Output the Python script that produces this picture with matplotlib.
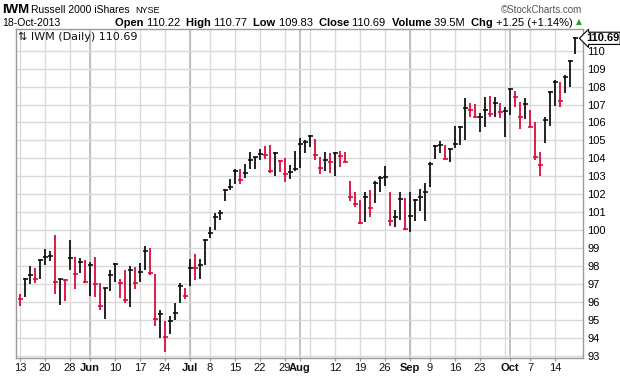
import numpy as np
import pandas as pd
import matplotlib
matplotlib.use("Agg")
import matplotlib.pyplot as plt
import matplotlib.transforms as mtransforms

# trading days, May 13 - Oct 18 2013
holidays = ["2013-05-27", "2013-07-04", "2013-09-02"]
dates = pd.bdate_range("2013-05-13", "2013-10-18")
dates = dates[~dates.isin(pd.to_datetime(holidays))]

highs = [96.45, 97.34, 98.0, 97.9, 98.4, 98.92, 98.86, 99.72, 97.28, 97.28,
         99.42, 98.5, 98.45, 98.36, 98.2, 98.5, 97.06, 96.78, 97.8, 98.17,
         97.28, 97.8, 97.99, 97.95, 98.17, 99.14, 99.01, 97.58, 95.52, 94.92,
         95.2, 95.94, 97.06, 96.78, 98.4, 98.64, 98.4, 99.48, 100.18, 100.96,
         101.1, 102.29, 102.83, 103.38, 103.4, 103.68, 104.37, 104.09, 104.52, 104.68,
         104.74, 104.37, 103.9, 104.03, 103.62, 104.42, 105.11, 105.02, 105.31, 105.08,
         104.1, 104.38, 104.29, 104.34, 104.42, 104.38, 102.71, 102.15, 101.65, 102.1,
         102.24, 102.71, 102.99, 103.58, 102.15, 101.13, 102.1, 101.78, 102.15, 101.72,
         102.28, 102.62, 103.77, 104.75, 104.94, 104.75, 104.56, 105.81, 105.81, 107.35,
         107.11, 107.03, 106.55, 107.4, 107.48, 107.44, 107.11, 106.85, 107.9, 107.76,
         107.16, 107.35, 106.7, 106.05, 104.34, 106.29, 107.76, 108.37, 108.27, 108.65,
         109.48, 110.77]
lows = [95.76, 96.26, 97.0, 97.06, 97.25, 98.03, 98.27, 96.41, 95.8, 96.04,
        97.75, 96.69, 97.62, 97.06, 96.35, 96.26, 95.52, 95.05, 96.6, 97.1,
        96.19, 95.94, 95.7, 96.72, 97.12, 97.77, 97.47, 94.68, 93.99, 93.19,
        94.18, 94.98, 95.94, 96.17, 96.91, 97.2, 97.3, 98.03, 99.57, 100.03,
        100.55, 101.64, 102.23, 102.55, 102.55, 102.92, 103.38, 103.4, 103.9, 103.94,
        103.16, 103.03, 103.25, 102.7, 102.83, 103.31, 103.44, 104.28, 104.62, 103.88,
        103.14, 103.32, 103.21, 103.04, 103.51, 103.77, 101.6, 101.28, 100.35, 100.43,
        100.72, 101.5, 102.15, 102.47, 100.24, 100.2, 100.54, 99.98, 99.87, 100.48,
        101.04, 100.48, 102.43, 103.95, 104.29, 103.97, 103.82, 104.56, 104.75, 105.03,
        106.29, 106.29, 105.49, 105.77, 106.29, 106.33, 106.23, 105.21, 106.42, 106.85,
        105.62, 106.18, 105.73, 103.88, 102.99, 104.88, 105.81, 106.92, 106.88, 107.63,
        107.96, 109.83]
closes = [96.15, 97.3, 97.5, 97.28, 98.36, 98.5, 98.58, 97.12, 97.25, 97.2,
          98.45, 97.58, 98.23, 97.12, 98.08, 97.0, 95.78, 96.75, 97.52, 98.12,
          97.06, 96.13, 97.77, 97.06, 97.69, 98.86, 97.62, 95.07, 95.33, 94.05,
          94.96, 95.39, 96.91, 96.35, 97.9, 97.86, 98.08, 99.44, 99.85, 100.72,
          100.97, 102.23, 102.42, 103.29, 102.79, 103.16, 103.9, 104.05, 104.24, 104.18,
          103.31, 104.28, 103.85, 103.12, 103.22, 103.4, 104.82, 104.93, 105.25, 104.19,
          103.47, 103.91, 103.78, 104.3, 104.15, 103.78, 101.87, 101.47, 100.39, 101.84,
          101.22, 102.65, 102.93, 102.95, 100.48, 100.72, 101.73, 100.07, 100.8, 101.69,
          101.87, 102.11, 103.69, 104.66, 104.75, 103.97, 104.53, 104.8, 105.77, 106.79,
          106.7, 106.29, 106.33, 106.7, 106.46, 107.07, 106.59, 106.64, 107.85, 107.4,
          106.29, 107.03, 105.77, 104.06, 103.64, 106.14, 107.72, 108.27, 107.2, 108.55,
          109.44, 110.69]
prev_close = 96.3  # close of May 10

yticks = list(range(93, 111))

up_col = "#111111"
dn_col = "#dc0a3c"

fig = plt.figure(figsize=(6.2, 3.76), dpi=100)
ax = fig.add_axes([16 / 620, 18 / 376, 567 / 620, 329 / 376])

x = np.arange(len(closes))
prev = np.r_[prev_close, closes[:-1]]
cols = [up_col if c >= p else dn_col for c, p in zip(closes, prev)]

# grid: weekly lines light, month starts darker
wk = pd.Series(dates).dt.isocalendar().week.values
mo = dates.month
week_start = [i for i in range(len(dates)) if i == 0 or wk[i] != wk[i - 1]]
month_start = [i for i in range(1, len(dates)) if mo[i] != mo[i - 1]]
for i in week_start:
    ax.axvline(i, color="#d9d9d9", lw=1.0, zorder=0)
for i in month_start:
    ax.axvline(i, color="#b8b8b8", lw=1.2, zorder=0)
for v in yticks:
    ax.axhline(v, color="#d9d9d9", lw=1.0, zorder=0)

ax.vlines(x, lows, highs, colors=cols, lw=1.3, zorder=3)
ax.hlines(closes, x - 0.5, x + 0.5, colors=cols, lw=1.2, zorder=3)

ax.set_xlim(-0.8, 112.6)
ax.set_ylim(92.87, 111.21)

# x labels: weekly day numbers, month names bold
pos, labs, bold = [], [], []
for i in week_start:
    if any(abs(m - i) <= 2 for m in month_start):
        continue
    pos.append(i); labs.append(str(dates[i].day)); bold.append(False)
for m in month_start:
    pos.append(m); labs.append(dates[m].strftime("%b")); bold.append(True)
ax.set_xticks(pos)
ax.set_xticklabels(labs, fontsize=8, family="Liberation Sans")
for t, b in zip(ax.get_xticklabels(), bold):
    if b:
        t.set_fontweight("bold")
ax.tick_params(axis="x", length=2, color="#999999", pad=1.5, labelcolor="#111111")

ax.yaxis.tick_right()
ax.set_yticks(yticks)
ax.set_yticklabels([str(v) for v in yticks], fontsize=8, family="Liberation Sans")
ax.tick_params(axis="y", length=0, pad=3)

for s in ax.spines.values():
    s.set_color("#9a9a9a")
    s.set_linewidth(1.0)

# last price tag
tr = mtransforms.blended_transform_factory(ax.transAxes, ax.transData)
ax.text(1.005, closes[-1], "%.2f" % closes[-1], transform=tr, ha="left", va="center",
        fontsize=8, fontweight="bold", family="Liberation Sans", clip_on=False,
        bbox=dict(boxstyle="larrow,pad=0.1", fc="white", ec="black", lw=0.8))

ax.text(0.004, 0.992, "\u21c5 IWM (Daily) %.2f" % closes[-1], transform=ax.transAxes,
        ha="left", va="top", fontsize=8, family="DejaVu Sans", color="#111111")

# header
def px(xp, yp):
    return xp / 620, 1 - yp / 376

fig.text(*px(2, 10), "IWM", fontsize=9.5, fontweight="bold", family="Liberation Sans", va="center")
fig.text(*px(31, 10), "Russell 2000 iShares", fontsize=7.5, family="Liberation Sans", va="center")
fig.text(*px(135, 10.5), "NYSE", fontsize=6.5, family="Liberation Sans", va="center")
fig.text(*px(582, 10), "\u00a9StockCharts.com", fontsize=7, family="Liberation Sans",
         color="#555555", va="center", ha="right")
fig.text(*px(2, 23), "18-Oct-2013", fontsize=7.5, family="Liberation Sans", va="center")

parts = [("Open ", True), ("110.22  ", False), ("High ", True), ("110.77  ", False),
         ("Low ", True), ("109.83  ", False), ("Close ", True), ("110.69  ", False),
         ("Volume ", True), ("39.5M  ", False), ("Chg ", True), ("+1.25 (+1.14%) ", False)]
r = fig.canvas.get_renderer()
xc = 115
for s, b in parts:
    t = fig.text(*px(xc, 23), s, fontsize=8, family="Liberation Sans",
                 fontweight="bold" if b else "normal", va="center")
    xc += t.get_window_extent(r).width
fig.text(*px(xc, 22), "\u25b2", fontsize=5.5, color="#2a9a2a", va="center", family="DejaVu Sans")

fig.savefig("out.png", dpi=100)
